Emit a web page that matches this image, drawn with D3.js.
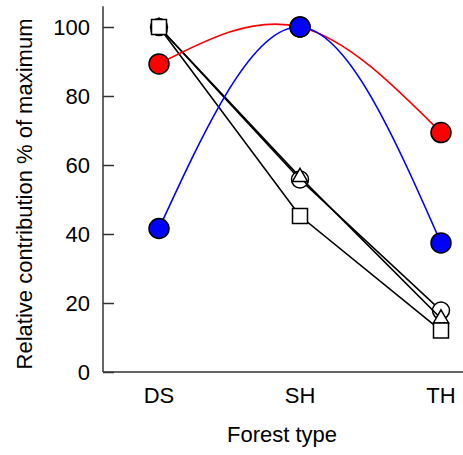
<!DOCTYPE html>
<html>
<head>
<meta charset="utf-8">
<script src="https://cdn.jsdelivr.net/npm/d3@7"></script>
<style>
  body { margin: 0; background: #fff; }
  text { font-family: "Liberation Sans", Arial, sans-serif; fill: #000; }
</style>
</head>
<body>
<script>
// data
const forestTypes = ['DS', 'SH', 'TH']
const redValues = [89.3, 100, 69.4]
const blueValues = [41.6, 100, 37.4]
const circleValues = [100, 55.8, 17.8]
const triangleValues = [100, 56.5, 15.5]
const squareValues = [100, 45.2, 12]
const yTicks = [0, 20, 40, 60, 80, 100]

const W = 463, H = 455

const svg = d3.select('body').append('svg')
  .attr('width', W)
  .attr('height', H)

const x = d3.scalePoint().domain(forestTypes).range([159, 441])
const y = d3.scaleLinear().domain([0, 100]).range([372, 27])

// spines
svg.append('line')
  .attr('x1', 103).attr('x2', 103)
  .attr('y1', y(0)).attr('y2', y(106))
  .attr('stroke', '#333').attr('stroke-width', 1.5)
svg.append('line')
  .attr('x1', 103).attr('x2', W)
  .attr('y1', y(0)).attr('y2', y(0))
  .attr('stroke', '#333').attr('stroke-width', 1.5)

const yAxis = svg.append('g')
  .attr('transform', 'translate(103,0)')
  .call(d3.axisLeft(y).tickValues(yTicks).tickSizeInner(-11).tickSizeOuter(0).tickPadding(13))
yAxis.select('.domain').remove()
yAxis.selectAll('line').attr('stroke', '#333').attr('stroke-width', 1.5)
yAxis.selectAll('text').attr('font-size', 22).attr('fill', '#000')
  .style('font-family', '"Liberation Sans", Arial, sans-serif')

// x labels, no ticks
svg.append('g').selectAll('text')
  .data(forestTypes)
  .join('text')
  .attr('x', d => x(d))
  .attr('y', 403)
  .attr('text-anchor', 'middle')
  .attr('font-size', 22)
  .text(d => d)

svg.append('text')
  .attr('x', 282).attr('y', 442)
  .attr('text-anchor', 'middle')
  .attr('font-size', 22)
  .text('Forest type')

svg.append('text')
  .attr('transform', 'translate(32,194) rotate(-90)')
  .attr('text-anchor', 'middle')
  .attr('font-size', 22)
  .text('Relative contribution % of maximum')

const smooth = d3.line()
  .x((d, i) => x(forestTypes[i]))
  .y(d => y(d))
  .curve(d3.curveNatural)

const straight = d3.line()
  .x((d, i) => x(forestTypes[i]))
  .y(d => y(d))

function drawSeries(values, lineGen, color, shape, fill) {
  svg.append('path')
    .attr('d', lineGen(values))
    .attr('fill', 'none')
    .attr('stroke', color)
    .attr('stroke-width', 1.6)

  const sym = d3.symbol().type(shape.type).size(shape.size)
  svg.append('g').selectAll('path')
    .data(values)
    .join('path')
    .attr('transform', (d, i) => `translate(${x(forestTypes[i])},${y(d)})`)
    .attr('d', sym)
    .attr('fill', fill)
    .attr('stroke', '#000')
    .attr('stroke-width', 1.5)
}

drawSeries(circleValues, straight, '#000', { type: d3.symbolCircle, size: Math.PI * 8.5 * 8.5 }, '#fff')
drawSeries(triangleValues, straight, '#000', { type: d3.symbolTriangle, size: 100 }, '#fff')
drawSeries(squareValues, straight, '#000', { type: d3.symbolSquare, size: 15 * 15 }, '#fff')
drawSeries(redValues, smooth, '#ff0000', { type: d3.symbolCircle, size: Math.PI * 10 * 10 }, '#ff0000')
drawSeries(blueValues, smooth, '#0000ff', { type: d3.symbolCircle, size: Math.PI * 10 * 10 }, '#0000ff')
</script>
</body>
</html>
